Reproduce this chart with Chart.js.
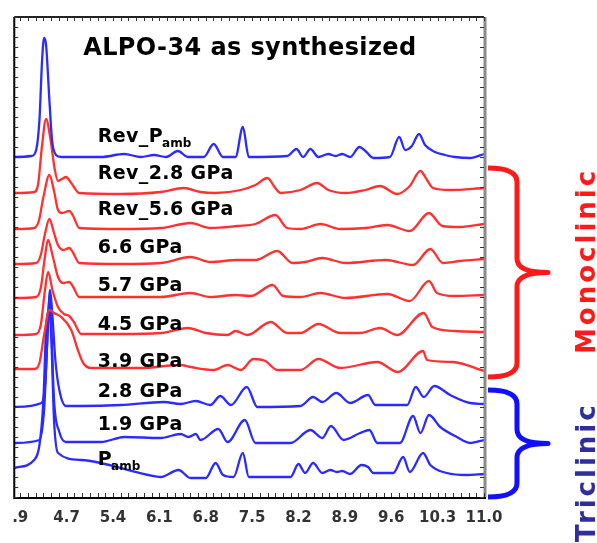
<!DOCTYPE html>
<html>
<head>
<meta charset="utf-8">
<script src="https://cdn.jsdelivr.net/npm/chart.js@4.4.1/dist/chart.umd.min.js"></script>
<style>
  html, body { margin: 0; padding: 0; background: #fff; }
  canvas { display: block; }
</style>
</head>
<body>
<canvas id="xrd" width="597" height="543"></canvas>
<script>
// tick labels on the 2-theta axis (first one is cut in the source)
const xTickValues = [4.0, 4.7, 5.4, 6.1, 6.8, 7.5, 8.2, 8.9, 9.6, 10.3, 11.0];
const xTickLabels = ['.9', '4.7', '5.4', '6.1', '6.8', '7.5', '8.2', '8.9', '9.6', '10.3', '11.0'];

// patterns, stacked (intensity incl. offset), [2theta, intensity]
const revPamb = [[3.91,340],[4.17,341],[4.24,347],[4.29,377],[4.33,437],[4.36,459],[4.39,452],[4.44,397],[4.48,357],[4.54,342],[4.62,340],[5.22,340],[5.57,343],[5.82,340],[6.02,342],[6.20,340],[6.38,346],[6.53,340],[6.77,340],[6.92,353],[7.06,340],[7.25,340],[7.36,370],[7.45,340],[8.03,341],[8.17,348],[8.27,340],[8.38,348],[8.50,340],[8.65,343],[8.76,341],[8.86,343],[8.98,340],[9.12,350],[9.21,346],[9.33,339],[9.58,340],[9.72,360],[9.81,347],[9.91,351],[10.02,363],[10.11,352],[10.26,345],[10.41,342],[10.56,340],[10.79,339],[11.00,343]];
const rev28 = [[3.91,304],[4.21,305],[4.27,313],[4.33,352],[4.39,378],[4.46,356],[4.52,328],[4.57,316],[4.63,318],[4.69,320],[4.77,314],[4.89,304],[5.52,303],[6.12,305],[6.47,309],[6.72,305],[6.95,304],[7.33,307],[7.55,312],[7.73,319],[7.85,309],[7.93,304],[8.23,307],[8.48,314],[8.65,307],[8.91,304],[9.21,307],[9.43,311],[9.69,303],[9.88,311],[10.04,326],[10.14,317],[10.23,309],[10.49,307],[11.00,309]];
const rev56 = [[3.91,268],[4.21,269],[4.28,276],[4.35,300],[4.44,322],[4.51,306],[4.57,287],[4.63,284],[4.74,286],[4.80,281],[4.89,269],[5.52,268],[6.12,269],[6.57,274],[6.87,269],[7.28,271],[7.55,273],[7.85,282],[8.03,269],[8.23,268],[8.53,273],[8.83,268],[9.21,269],[9.54,272],[9.88,266],[10.17,284],[10.37,271],[10.64,270],[11.00,273]];
const p66 = [[3.91,233],[4.24,234],[4.31,242],[4.37,262],[4.44,278],[4.51,264],[4.57,252],[4.65,247],[4.74,249],[4.80,244],[4.89,234],[5.52,233],[6.12,234],[6.57,240],[6.87,235],[7.28,237],[7.55,237],[7.88,246],[8.11,234],[8.30,235],[8.56,239],[8.91,234],[9.52,237],[9.93,232],[10.19,248],[10.38,234],[10.64,236],[11.00,238]];
const p57 = [[3.91,199],[4.24,200],[4.31,209],[4.37,239],[4.42,257],[4.49,241],[4.57,220],[4.65,214],[4.74,215],[4.80,210],[4.89,200],[5.52,200],[6.12,200],[6.57,204],[6.87,200],[7.25,202],[7.48,201],[7.81,212],[7.97,201],[8.23,200],[8.53,204],[8.91,199],[9.54,203],[9.88,196],[10.17,216],[10.29,204],[10.56,201],[11.00,202]];
const p45 = [[3.91,162],[4.24,163],[4.31,172],[4.37,205],[4.42,225],[4.49,206],[4.57,190],[4.66,183],[4.74,181],[4.81,175],[4.92,163],[5.52,163],[6.12,164],[6.53,169],[6.80,164],[7.13,162],[7.25,166],[7.43,162],[7.78,175],[8.03,164],[8.23,164],[8.50,173],[8.83,164],[9.13,164],[9.43,169],[9.69,162],[10.09,184],[10.22,170],[10.56,166],[11.00,165]];
const p39 = [[3.91,128],[4.21,128],[4.29,134],[4.36,162],[4.44,187],[4.51,184],[4.62,180],[4.77,167],[4.87,147],[4.95,134],[5.07,129],[5.82,129],[6.42,132],[6.57,130],[6.92,127],[7.13,132],[7.33,127],[7.52,138],[7.70,136],[7.88,127],[8.23,127],[8.50,138],[8.83,129],[9.39,135],[9.70,125],[10.08,146],[10.14,137],[10.53,135],[11.00,126]];
const p28 = [[3.91,90],[4.32,94],[4.38,117],[4.42,177],[4.45,207],[4.48,187],[4.53,137],[4.59,107],[4.69,91],[4.92,91],[5.52,92],[6.17,95],[6.42,93],[6.65,96],[6.87,92],[7.02,101],[7.18,92],[7.42,110],[7.58,90],[8.23,91],[8.42,100],[8.56,95],[8.77,104],[8.98,94],[9.25,102],[9.36,92],[9.84,92],[9.97,110],[10.09,100],[10.25,111],[10.49,102],[10.79,94],[11.00,93]];
const p19 = [[3.91,54],[4.29,57],[4.36,87],[4.41,157],[4.44,197],[4.47,167],[4.51,97],[4.59,65],[4.69,55],[5.22,55],[5.57,60],[6.12,59],[6.42,63],[6.54,60],[6.65,63],[6.72,57],[6.99,68],[7.13,55],[7.39,77],[7.55,54],[8.08,54],[8.38,67],[8.56,59],[8.69,71],[8.88,57],[9.13,64],[9.27,67],[9.39,54],[9.73,54],[9.93,81],[10.04,64],[10.17,82],[10.34,70],[10.59,60],[10.79,54],[11.00,57]];
const pamb = [[3.91,29],[4.21,37],[4.29,52],[4.35,97],[4.39,167],[4.44,187],[4.47,157],[4.51,77],[4.57,44],[4.92,37],[5.93,22],[6.12,20],[6.39,27],[6.57,19],[6.80,19],[6.95,34],[7.06,22],[7.22,20],[7.36,44],[7.45,20],[8.08,20],[8.20,33],[8.30,24],[8.42,34],[8.56,24],[8.68,27],[8.78,25],[8.86,26],[8.98,23],[9.15,32],[9.25,30],[9.33,24],[9.63,24],[9.78,40],[9.88,25],[10.08,44],[10.19,32],[10.44,24],[10.74,22],[11.00,23]];

const seriesData = [revPamb, rev28, rev56, p66, p57, p45, p39, p28, p19, pamb];
const seriesNames = ['Rev_P', 'Rev_2.8 GPa', 'Rev_5.6 GPa', '6.6 GPa', '5.7 GPa', '4.5 GPa', '3.9 GPa', '2.8 GPa', '1.9 GPa', 'P'];
const seriesSubs = ['amb', '', '', '', '', '', '', '', '', 'amb'];
const labelLevels = [355, 318, 282, 244, 206, 167, 130, 100, 67, 32];
const seriesColors = ['#2b2bff', '#ff3030', '#ff3030', '#ff3030', '#ff3030', '#ff3030', '#ff3030', '#2b2bff', '#2b2bff', '#2b2bff'];

const FONT = '"DejaVu Sans", Verdana, sans-serif';

const decor = {
  id: 'decor',
  afterDatasetsDraw(chart) {
    const { ctx, chartArea: a, scales: { x, y } } = chart;
    ctx.save();

    // frame
    ctx.lineWidth = 3;
    ctx.strokeStyle = '#8a8a8a';
    ctx.beginPath(); ctx.moveTo(a.right + 1, a.top); ctx.lineTo(a.right + 1, a.bottom); ctx.stroke();
    ctx.lineWidth = 2;
    ctx.strokeStyle = '#222';
    ctx.beginPath(); ctx.moveTo(a.left, a.top); ctx.lineTo(a.right, a.top); ctx.stroke();
    ctx.strokeStyle = '#000';
    ctx.beginPath();
    ctx.moveTo(a.left, a.top); ctx.lineTo(a.left, a.bottom + 1);
    ctx.lineTo(a.right + 2, a.bottom + 1);
    ctx.stroke();

    // minor ticks, pointing inward
    ctx.lineWidth = 1;
    ctx.strokeStyle = '#333';
    ctx.beginPath();
    for (let i = 0; i <= 60; i++) {
      const px = Math.round(x.getPixelForValue(4.0 + i * 0.7 / 6)) + 0.5;
      ctx.moveTo(px, a.bottom); ctx.lineTo(px, a.bottom - 4);
      ctx.moveTo(px, a.top); ctx.lineTo(px, a.top + 4);
    }
    for (let v = 0; v <= 480; v += 10) {
      const py = Math.round(y.getPixelForValue(v)) + 0.5;
      ctx.moveTo(a.left, py); ctx.lineTo(a.left + 4, py);
      ctx.moveTo(a.right, py); ctx.lineTo(a.right - 4, py);
    }
    ctx.stroke();

    // title
    ctx.fillStyle = '#000';
    ctx.textBaseline = 'alphabetic';
    ctx.letterSpacing = '0.4px';
    ctx.font = 'bold 24px ' + FONT;
    ctx.fillText('ALPO-34 as synthesized', x.getPixelForValue(4.95), y.getPixelForValue(442));

    // pattern labels
    seriesNames.forEach((name, i) => {
      const lx = x.getPixelForValue(5.17);
      const ly = y.getPixelForValue(labelLevels[i]);
      ctx.letterSpacing = '0.4px';
      ctx.font = 'bold 19px ' + FONT;
      ctx.fillText(name, lx, ly);
      if (seriesSubs[i]) {
        const w = ctx.measureText(name).width;
        ctx.letterSpacing = '0px';
        ctx.font = 'bold 12px ' + FONT;
        ctx.fillText(seriesSubs[i], lx + w - 1, ly + 5);
      }
    });

    // braces
    const brace = (yTop, yBot, color) => {
      const x0 = a.right + 4, xv = x0 + 29, xt = x0 + 60;
      const t = y.getPixelForValue(yTop), b = y.getPixelForValue(yBot), m = (t + b) / 2, r = 14;
      ctx.strokeStyle = color;
      ctx.lineWidth = 5;
      ctx.lineJoin = 'round';
      ctx.beginPath();
      ctx.moveTo(x0, t);
      ctx.quadraticCurveTo(xv, t, xv, t + r);
      ctx.lineTo(xv, m - r);
      ctx.quadraticCurveTo(xv, m, xt, m);
      ctx.quadraticCurveTo(xv, m, xv, m + r);
      ctx.lineTo(xv, b - r);
      ctx.quadraticCurveTo(xv, b, x0, b);
      ctx.stroke();
    };
    brace(329, 120, '#ff1a1a');
    brace(107, 0, '#1010ff');

    // phase names, rotated
    const vtext = (txt, yStart, color) => {
      ctx.save();
      ctx.translate(595, yStart);
      ctx.rotate(-Math.PI / 2);
      ctx.letterSpacing = '3px';
      ctx.font = 'bold 26px ' + FONT;
      ctx.fillStyle = color;
      ctx.fillText(txt, 0, 0);
      ctx.restore();
    };
    vtext('Monoclinic', 354, '#ff1a1a');
    vtext('Triclinic', 542, '#2e2e9e');

    ctx.restore();
  }
};

const chart = new Chart(document.getElementById('xrd').getContext('2d'), {
  type: 'line',
  data: {
    datasets: seriesData.map((pts, i) => ({
      label: seriesNames[i] + seriesSubs[i],
      data: pts.map(p => ({ x: p[0], y: p[1] })),
      borderColor: seriesColors[i],
      borderWidth: 2.3,
      pointRadius: 0,
      fill: false,
      cubicInterpolationMode: 'monotone'
    }))
  },
  options: {
    responsive: false,
    animation: false,
    layout: { padding: { left: 13, right: 113, top: 17, bottom: 0 } },
    plugins: { legend: { display: false }, tooltip: { enabled: false } },
    scales: {
      x: {
        type: 'linear',
        min: 3.91,
        max: 11.0,
        afterBuildTicks: s => { s.ticks = xTickValues.map(v => ({ value: v })); },
        afterFit: s => { s.height = 46; },
        ticks: {
          autoSkip: false,
          maxRotation: 0,
          padding: 12,
          color: '#333',
          font: { family: FONT, weight: 'bold', size: 15 },
          callback: (v, i) => xTickLabels[i]
        },
        grid: { display: false, drawTicks: false },
        border: { display: false }
      },
      y: { display: false, min: 0, max: 480 }
    }
  },
  plugins: [decor]
});
</script>
</body>
</html>
